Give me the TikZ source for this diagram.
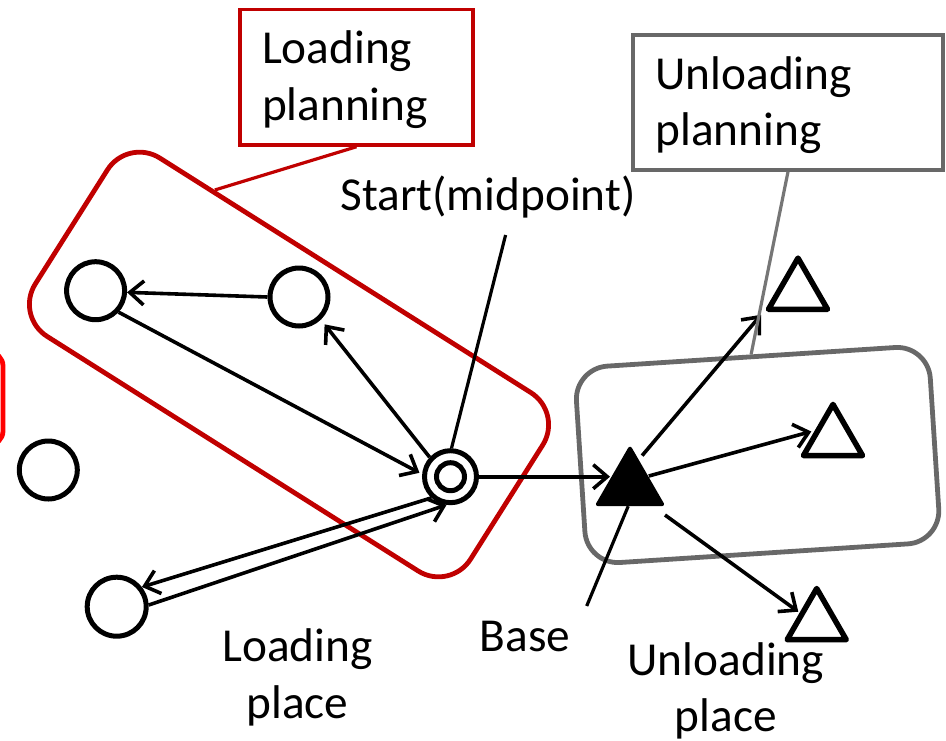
\documentclass[tikz,border=0pt]{standalone}
\usepackage{fontspec}
\setmainfont{Carlito}
\usetikzlibrary{arrows.meta,shapes.geometric,calc}
\definecolor{framered}{RGB}{192,0,0}
\definecolor{brightred}{RGB}{255,0,0}
\definecolor{framegray}{RGB}{104,104,104}
\definecolor{leadgray}{RGB}{118,118,118}
\begin{document}
\begin{tikzpicture}[x=1pt,y=-1pt,
  txt/.style={font=\fontsize{47.3}{56.7}\selectfont, inner sep=0pt, outer sep=0pt},
  place/.style={circle, draw, line width=5pt, minimum size=58pt, inner sep=0pt},
  dest/.style={regular polygon, regular polygon sides=3, draw, line width=5.5pt,
    line join=round, minimum size=68.2pt, inner sep=0pt},
  link/.style={line width=3.6pt, -{Straight Barb[length=14pt,width=24pt]}},
  lead/.style={line width=3.2pt},
  redframe/.style={draw=framered, line width=4.8pt, rectangle, inner sep=0pt},
  grayframe/.style={draw=framegray, line width=4.8pt, rectangle, inner sep=0pt}]

\useasboundingbox (0,0) rectangle (946,740);

% planning groups
\node[redframe, rounded corners=38pt, minimum width=515pt, minimum height=211pt,
  rotate=-32.3] (loadgroup) at (289,364.5) {};
\node[grayframe, rounded corners=33pt, minimum width=354.6pt, minimum height=196.8pt,
  rotate=3.7] (unloadgroup) at (757.6,455) {};
\node[draw=brightred, line width=4.8pt, rectangle, rounded corners=14pt, inner sep=0pt,
  minimum width=64pt, minimum height=93pt] (leftgroup) at (-29,398.5) {};

% captions in boxes
\node[draw=framered, line width=3.4pt, minimum width=233pt, minimum height=135.7pt,
  inner sep=0pt] (loadbox) at (356.5,77.2) {};
\node[txt, anchor=base west] (loadplan) at (262,63.3)
  {\begin{tabular}[t]{@{}l@{}}Loading\\planning\end{tabular}};
\node[draw=framegray, line width=3.4pt, minimum width=310pt, minimum height=135pt,
  inner sep=0pt] (unloadbox) at (788,102.5) {};
\node[txt, anchor=base west] (unloadplan) at (655.5,89)
  {\begin{tabular}[t]{@{}l@{}}Unloading\\planning\end{tabular}};

% loading places
\node[place] (c1) at (95.6,290.7) {};
\node[place] (c2) at (299,297) {};
\node[place] (c3) at (48.3,470) {};
\node[place, minimum size=59pt] (c4) at (116.7,606.7) {};
\node[place, minimum size=52pt] (start) at (450.5,476.7) {};
\draw[line width=5pt] (start.center) circle[radius=14];

% base and unloading places
\node[regular polygon, regular polygon sides=3, draw, fill=black, line width=4pt,
  line join=round, minimum size=74pt, inner sep=0pt] (base) at (630,485.7) {};
\node[dest] (T1) at (798,292.2) {};
\node[dest] (T2) at (833,438.5) {};
\node[dest] (T3) at (816.7,622.6) {};

% routes
\draw[link] (c2.west) -- (c1.-3);
\draw[link, shorten >=3pt] (c1.-43) -- (start.175);
\draw[link, shorten >=6pt] (start.137) -- (c2.-46);
\draw[link, shorten >=20pt] (start) -- (start -| base);
\draw[link] (start.228) -- (c4.38);
\draw[link] (c4.3) -- (start.262);
\draw[link] ([shift={(12.1,-30.1)}]base.center) -- ([shift={(-37,22.6)}]T1.center);
\draw[link] ([shift={(18.8,-9.7)}]base.center) -- ([shift={(-21.7,-7)}]T2.center);
\draw[link] ([shift={(35,29.3)}]base.center) -- ([shift={(-18.4,-10.9)}]T3.center);

% labels and their leaders
\node[txt, anchor=base] (starttxt) at (488,210) {Start(midpoint)};
\coordinate (startlead) at (505.6,235);
\draw[lead] (startlead) -- (start.88);
\node[txt, anchor=base] (basetxt) at (525,651.7) {Base};
\coordinate (baselead) at (586.7,606);
\draw[lead] (baselead) -- (base.265);
\node[txt, anchor=base] (loadplacetxt) at (297.5,661.7)
  {\begin{tabular}[t]{@{}c@{}}Loading\\place\end{tabular}};
\node[txt, anchor=base] (unloadplacetxt) at (725.8,675)
  {\begin{tabular}[t]{@{}c@{}}Unloading\\place\end{tabular}};

\draw[lead, draw=framered] (loadbox.south) -- ($(loadgroup.north west)!0.2!(loadgroup.north east)$);
\draw[lead, draw=leadgray] (unloadbox.south) -- (unloadgroup.north);
\end{tikzpicture}
\end{document}
